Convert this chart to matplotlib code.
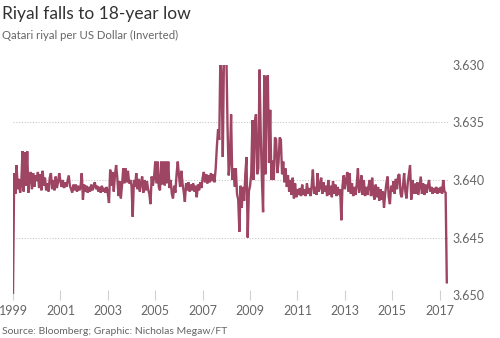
"""Qatari riyal per US dollar, 1999-2017 (inverted axis), FT style."""

import matplotlib
matplotlib.use("Agg")
import matplotlib.pyplot as plt
import numpy as np

# ---------------------------------------------------------------------------
# Data (one value every 0.05 year from Jan 1999)
# ---------------------------------------------------------------------------

START_YEAR = 1999.0
STEP = 0.05

RIYAL = [
    # 1999
    3.6498, 3.6394, 3.6412, 3.6387, 3.6408, 3.6399, 3.6411, 3.6402, 3.6375, 3.6410,
    3.6376, 3.6405, 3.6375, 3.6411, 3.6398, 3.6393, 3.6408, 3.6394, 3.6406, 3.6396,
    # 2000
    3.6401, 3.6393, 3.6407, 3.6395, 3.6409, 3.6392, 3.6405, 3.6398, 3.6409, 3.6403,
    3.6410, 3.6398, 3.6394, 3.6408, 3.6400, 3.6409, 3.6397, 3.6407, 3.6402, 3.6394,
    # 2001
    3.6401, 3.6406, 3.6400, 3.6407, 3.6402, 3.6406, 3.6401, 3.6396, 3.6405, 3.6408,
    3.6411, 3.6404, 3.6409, 3.6404, 3.6410, 3.6405, 3.6409, 3.6406, 3.6394, 3.6417,
    # 2002
    3.6404, 3.6410, 3.6405, 3.6411, 3.6406, 3.6410, 3.6404, 3.6409, 3.6405, 3.6402,
    3.6408, 3.6405, 3.6410, 3.6406, 3.6411, 3.6405, 3.6410, 3.6407, 3.6411, 3.6406,
    # 2003
    3.6412, 3.6420, 3.6391, 3.6405, 3.6393, 3.6410, 3.6396, 3.6387, 3.6398, 3.6414,
    3.6401, 3.6416, 3.6404, 3.6390, 3.6403, 3.6390, 3.6402, 3.6392, 3.6403, 3.6400,
    # 2004
    3.6405, 3.6432, 3.6400, 3.6406, 3.6394, 3.6408, 3.6399, 3.6410, 3.6402, 3.6397,
    3.6411, 3.6400, 3.6409, 3.6401, 3.6408, 3.6412, 3.6421, 3.6397, 3.6405, 3.6398,
    # 2005
    3.6384, 3.6403, 3.6384, 3.6406, 3.6409, 3.6384, 3.6404, 3.6384, 3.6405, 3.6384,
    3.6403, 3.6384, 3.6407, 3.6400, 3.6412, 3.6416, 3.6405, 3.6411, 3.6395, 3.6384,
    # 2006
    3.6396, 3.6406, 3.6392, 3.6403, 3.6410, 3.6419, 3.6403, 3.6409, 3.6402, 3.6410,
    3.6404, 3.6409, 3.6403, 3.6410, 3.6405, 3.6415, 3.6404, 3.6409, 3.6402, 3.6407,
    # 2007
    3.6398, 3.6393, 3.6402, 3.6395, 3.6403, 3.6396, 3.6402, 3.6394, 3.6401, 3.6395,
    3.6402, 3.6390, 3.6371, 3.6356, 3.6365, 3.6290, 3.6310, 3.6380, 3.6290, 3.6290,
    # 2008
    3.6290, 3.6354, 3.6396, 3.6383, 3.6343, 3.6400, 3.6390, 3.6406, 3.6390, 3.6412,
    3.6417, 3.6445, 3.6405, 3.6424, 3.6406, 3.6418, 3.6395, 3.6380, 3.6450, 3.6410,
    # 2009
    3.6405, 3.6395, 3.6348, 3.6400, 3.6350, 3.6343, 3.6395, 3.6390, 3.6304, 3.6360,
    3.6400, 3.6428, 3.6309, 3.6395, 3.6312, 3.6309, 3.6385, 3.6339, 3.6400, 3.6383,
    # 2010
    3.6400, 3.6363, 3.6365, 3.6394, 3.6385, 3.6363, 3.6365, 3.6395, 3.6384, 3.6402,
    3.6390, 3.6406, 3.6396, 3.6410, 3.6400, 3.6413, 3.6398, 3.6416, 3.6403, 3.6415,
    # 2011
    3.6408, 3.6413, 3.6407, 3.6414, 3.6404, 3.6413, 3.6408, 3.6414, 3.6403, 3.6412,
    3.6407, 3.6414, 3.6405, 3.6391, 3.6412, 3.6406, 3.6413, 3.6394, 3.6410, 3.6406,
    # 2012
    3.6398, 3.6412, 3.6402, 3.6410, 3.6405, 3.6414, 3.6400, 3.6413, 3.6405, 3.6415,
    3.6401, 3.6412, 3.6404, 3.6414, 3.6406, 3.6413, 3.6408, 3.6435, 3.6405, 3.6396,
    # 2013
    3.6408, 3.6400, 3.6393, 3.6410, 3.6394, 3.6412, 3.6403, 3.6414, 3.6406, 3.6413,
    3.6404, 3.6390, 3.6411, 3.6405, 3.6396, 3.6413, 3.6400, 3.6414, 3.6406, 3.6413,
    # 2014
    3.6405, 3.6400, 3.6414, 3.6398, 3.6412, 3.6417, 3.6404, 3.6415, 3.6406, 3.6418,
    3.6408, 3.6417, 3.6410, 3.6424, 3.6412, 3.6403, 3.6397, 3.6415, 3.6421, 3.6405,
    # 2015
    3.6410, 3.6401, 3.6412, 3.6399, 3.6408, 3.6396, 3.6395, 3.6412, 3.6415, 3.6405,
    3.6394, 3.6410, 3.6416, 3.6403, 3.6395, 3.6387, 3.6417, 3.6400, 3.6412, 3.6403,
    # 2016
    3.6412, 3.6402, 3.6413, 3.6405, 3.6397, 3.6412, 3.6403, 3.6413, 3.6404, 3.6411,
    3.6405, 3.6400, 3.6410, 3.6406, 3.6412, 3.6407, 3.6411, 3.6406, 3.6412, 3.6407,
    # 2017
    3.6411, 3.6406, 3.6412, 3.6400, 3.6410, 3.6411, 3.6489,
]

YEAR_TICKS = [1999, 2001, 2003, 2005, 2007, 2009, 2011, 2013, 2015, 2017]
RATE_TICKS = [3.630, 3.635, 3.640, 3.645, 3.650]
GRID_LEVELS = [3.635, 3.640, 3.645]

TITLE = "Riyal falls to 18-year low"
SUBTITLE = "Qatari riyal per US Dollar (Inverted)"
SOURCE = "Source: Bloomberg; Graphic: Nicholas Megaw/FT"

# ---------------------------------------------------------------------------
# Style
# ---------------------------------------------------------------------------

LINE_COLOR = "#9E4563"
TEXT_DARK = "#333333"
TEXT_GREY = "#666666"
GRID_COLOR = "#C8C8C8"

plt.rcParams["font.family"] = ["Lato", "DejaVu Sans"]

years = START_YEAR + STEP * np.arange(len(RIYAL))

fig = plt.figure(figsize=(5.0, 3.38), dpi=100)
fig.patch.set_facecolor("white")
ax = fig.add_axes([0.026, 0.1272, 0.870, 0.6805])
ax.set_facecolor("white")

for level in GRID_LEVELS:
    ax.axhline(level, color=GRID_COLOR, linestyle=(0, (1, 1.5)), linewidth=0.8, zorder=0)

ax.plot(years, RIYAL, color=LINE_COLOR, linewidth=1.7, solid_joinstyle="miter", zorder=3)

ax.set_xlim(1999.0, 2017.35)
ax.set_ylim(3.650, 3.630)  # inverted

ax.set_xticks(YEAR_TICKS)
ax.set_xticklabels([str(y) for y in YEAR_TICKS], fontsize=9, color=TEXT_GREY)
ax.set_yticks(RATE_TICKS)
ax.set_yticklabels([f"{v:.3f}" for v in RATE_TICKS], fontsize=9, color=TEXT_GREY)

ax.yaxis.tick_right()
ax.tick_params(axis="y", length=0, pad=3)
ax.tick_params(axis="x", direction="inout", length=7, width=0.8,
               color="#D0D0D0", pad=4)

for spine in ax.spines.values():
    spine.set_visible(False)

fig.text(0.004, 0.944, TITLE, fontsize=12.5, color=TEXT_DARK, va="baseline", ha="left")
fig.text(0.004, 0.885, SUBTITLE, fontsize=8.2, color=TEXT_GREY, va="baseline", ha="left")
fig.text(0.004, 0.012, SOURCE, fontsize=7.5, color=TEXT_GREY, va="baseline", ha="left")

fig.savefig("out.png", dpi=100, facecolor="white")
